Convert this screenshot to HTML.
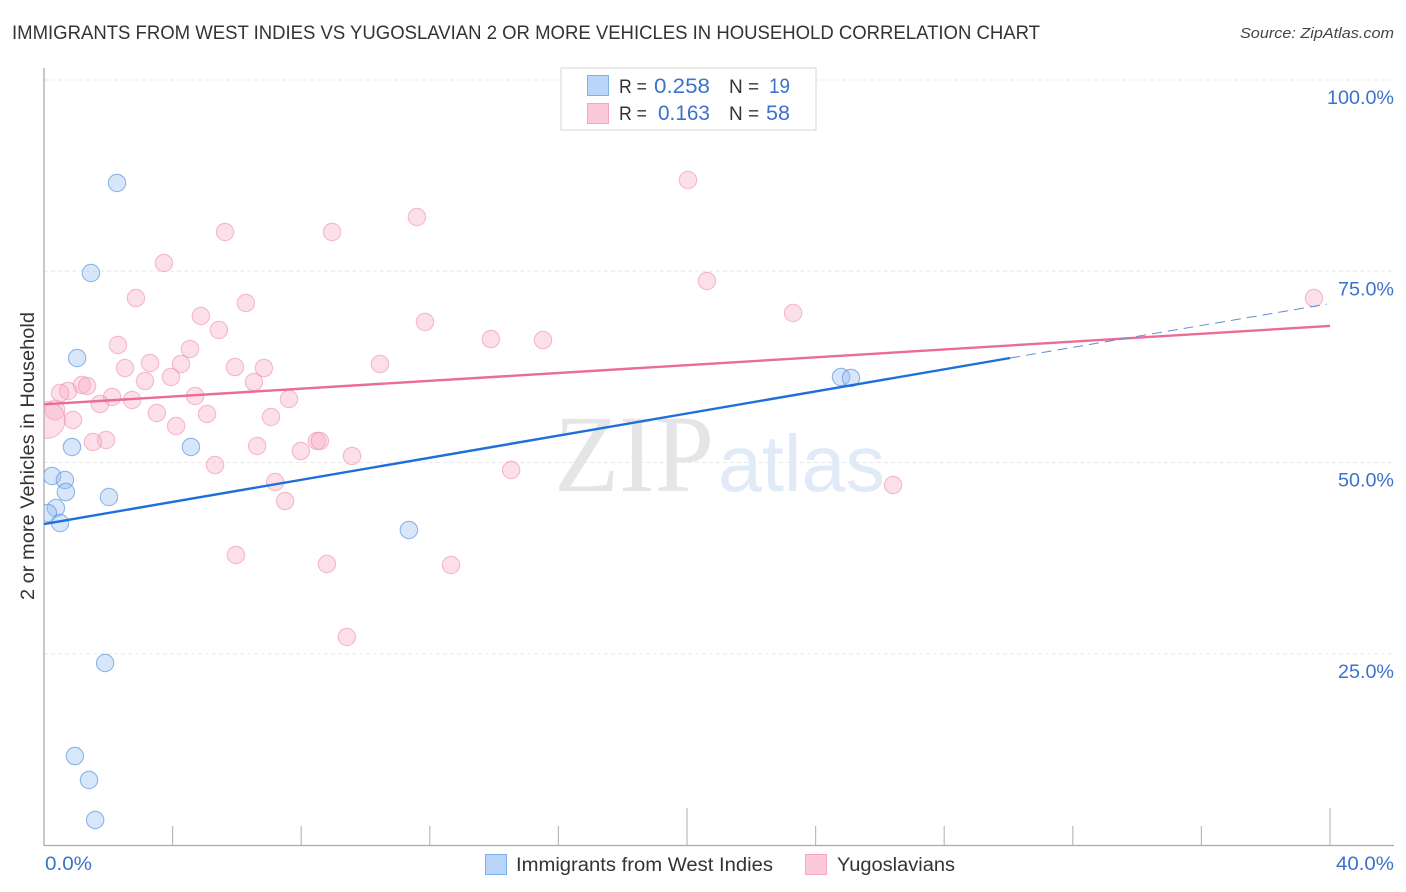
<!DOCTYPE html>
<html lang="en">
<head>
<meta charset="utf-8">
<title>Immigrants from West Indies vs Yugoslavian 2 or more Vehicles in Household Correlation Chart</title>
<style>
html,body{margin:0;padding:0;background:#fff}
svg{display:block}
text{font-family:"Liberation Sans",sans-serif}
</style>
</head>
<body>
<svg id="chart" xmlns="http://www.w3.org/2000/svg" width="1406" height="892" viewBox="0 0 1406 892">
<defs><clipPath id="plot-clip"><rect x="44" y="60" width="1350" height="785"/></clipPath></defs>
<rect width="1406" height="892" fill="#fff"/>
<text x="12" y="39" font-size="19" fill="#333" textLength="1028" lengthAdjust="spacingAndGlyphs">IMMIGRANTS FROM WEST INDIES VS YUGOSLAVIAN 2 OR MORE VEHICLES IN HOUSEHOLD CORRELATION CHART</text>
<text x="1394" y="38" font-size="15" font-style="italic" fill="#444" text-anchor="end" textLength="154" lengthAdjust="spacingAndGlyphs">Source: ZipAtlas.com</text>
<g id="grid"></g>
<g>
<text x="554" y="491" font-size="110" style="font-family:'Liberation Serif',serif" fill="#e4e5e6" textLength="160" lengthAdjust="spacingAndGlyphs">ZIP</text>
<text x="718" y="491" font-size="80" fill="#e1ebf8" textLength="167" lengthAdjust="spacingAndGlyphs">atlas</text>
</g>
<g id="axes"></g>
<g id="pink-points" clip-path="url(#plot-clip)"></g>
<g id="blue-points" clip-path="url(#plot-clip)"></g>
<g id="trends"></g>
<g id="tick-labels"></g>
<text x="34" y="456" font-size="19" fill="#333" text-anchor="middle" transform="rotate(-90 34 456)" textLength="288" lengthAdjust="spacingAndGlyphs">2 or more Vehicles in Household</text>
<g>
<rect x="561" y="68" width="255" height="62" fill="#fff" stroke="#dddddd" stroke-width="1.2"/>
<rect x="587.5" y="75.5" width="21" height="20" fill="#b9d5f8" stroke="#7fb0ea"/>
<rect x="587.5" y="103.5" width="21" height="20" fill="#fcc9d9" stroke="#f3a6bf"/>
<text x="619" y="93" font-size="19" fill="#333" textLength="28" lengthAdjust="spacingAndGlyphs">R =</text>
<text x="654" y="93" font-size="21" fill="#3b72cc" textLength="56" lengthAdjust="spacingAndGlyphs">0.258</text>
<text x="729" y="93" font-size="19" fill="#333">N =</text>
<text x="769" y="93" font-size="21" fill="#3b72cc" textLength="21" lengthAdjust="spacingAndGlyphs">19</text>
<text x="619" y="120" font-size="19" fill="#333" textLength="28" lengthAdjust="spacingAndGlyphs">R =</text>
<text x="658" y="120" font-size="21" fill="#3b72cc" textLength="52" lengthAdjust="spacingAndGlyphs">0.163</text>
<text x="729" y="120" font-size="19" fill="#333">N =</text>
<text x="766" y="120" font-size="21" fill="#3b72cc" textLength="24" lengthAdjust="spacingAndGlyphs">58</text>
</g>
<g>
<rect x="485.5" y="854.5" width="21" height="20" fill="#b9d5f8" stroke="#7fb0ea"/>
<text x="516" y="871" font-size="19" fill="#333" textLength="257" lengthAdjust="spacingAndGlyphs">Immigrants from West Indies</text>
<rect x="805.5" y="854.5" width="21" height="20" fill="#fcc9d9" stroke="#f3a6bf"/>
<text x="837" y="871" font-size="19" fill="#333" textLength="118" lengthAdjust="spacingAndGlyphs">Yugoslavians</text>
</g>
</svg>
<script>
const blueX = [2.27,1.46,1.03,0.87,0.25,0.65,0.68,2.02,0.37,0.12,0.50,4.57,11.35,24.79,25.10,1.90,0.96,1.40,1.59];
const blueY = [86.54,74.77,63.66,52.03,48.24,47.71,46.14,45.49,44.05,43.40,42.09,52.03,41.18,61.18,61.05,23.79,11.63,8.50,3.27];
const pinkX = [20.03,11.60,5.63,8.96,3.73,2.86,6.28,4.88,5.44,11.85,20.62,23.30,39.50,13.90,15.52,2.30,4.54,3.30,4.26,2.52,5.94,6.84,10.45,3.14,3.95,6.53,1.18,1.34,0.75,0.50,2.12,2.74,4.70,1.74,7.62,3.51,5.07,7.06,0.90,4.11,1.93,1.52,6.63,7.99,8.49,8.58,9.58,5.32,14.53,26.41,7.19,7.50,5.97,8.80,12.66,9.42,0.34,0.09];
const pinkY = [86.93,82.09,80.13,80.13,76.08,71.50,70.85,69.15,67.32,68.37,73.73,69.54,71.50,66.14,66.01,65.36,64.84,63.01,62.88,62.35,62.48,62.35,62.88,60.65,61.18,60.52,60.13,60.00,59.35,59.08,58.56,58.17,58.69,57.65,58.30,56.47,56.34,55.95,55.56,54.77,52.94,52.68,52.16,51.50,52.81,52.81,50.85,49.67,49.02,47.06,47.45,44.97,37.91,36.73,36.60,27.19,56.86,55.56];
const pinkLargeWeights = [0,0,0,0,0,0,0,0,0,0,0,0,0,0,0,0,0,0,0,0,0,0,0,0,0,0,0,0,0,0,0,0,0,0,0,0,0,0,0,0,0,0,0,0,0,0,0,0,0,0,0,0,0,0,0,0,1,8];
const blueTrendSolidX = [0,30.05];
const blueTrendSolidY = [41.96,63.66];
const blueTrendDashX = [30.05,39.9];
const blueTrendDashY = [63.66,70.7];
const pinkTrendX = [0,40];
const pinkTrendY = [57.6,67.85];
const yTicks = [25,50,75,100];
const yTickLabels = ['25.0%','50.0%','75.0%','100.0%'];
const xTicks = [0,4,8,12,16,20,24,28,32,36,40];
const xMajorTicks = [20,40];
const xEdgeLabels = ['0.0%','40.0%'];

const NS = 'http://www.w3.org/2000/svg';
const sx = v => 44 + v * 32.15;
const sy = v => 845 - v * 7.65;
function mk(tag, parent, attrs) {
  const el = document.createElementNS(NS, tag);
  for (const k in attrs) el.setAttribute(k, attrs[k]);
  parent.appendChild(el);
  return el;
}
const grid = document.getElementById('grid');
const axes = document.getElementById('axes');
const trends = document.getElementById('trends');
const labels = document.getElementById('tick-labels');
const pinkG = document.getElementById('pink-points');
const blueG = document.getElementById('blue-points');

yTicks.forEach((t, i) => {
  const y = sy(t);
  const line = mk('line', grid, {x1: 44, x2: 1394, y1: y, y2: y, stroke: '#e8e8e8', 'stroke-width': 1, 'stroke-dasharray': '4 3'});
  
  
  const lab = mk('text', labels, {x: 1394, y: y + 24, 'font-size': 19.5, fill: '#3b72cc', 'text-anchor': 'end', textLength: yTickLabels[i].length > 5 ? 67 : 56, lengthAdjust: 'spacingAndGlyphs'});
  lab.textContent = yTickLabels[i];
  
  
});

const yAxis = mk('line', axes, {x1: 44, x2: 44, y1: 68, y2: 845.5, stroke: '#aaaaaa', 'stroke-width': 1.3});


const xAxis = mk('line', axes, {x1: 44, x2: 1394, y1: 845.5, y2: 845.5, stroke: '#aaaaaa', 'stroke-width': 1.3});


xTicks.forEach(t => {
  if (t === 0) return;
  const x = sx(t);
  const top = xMajorTicks.includes(t) ? 808 : 826;
  const tick = mk('line', axes, {x1: x, x2: x, y1: top, y2: 845, stroke: '#bbbbbb', 'stroke-width': 1.2});
  
  
});
const x0 = mk('text', labels, {x: 45, y: 870, 'font-size': 19.5, fill: '#3b72cc', textLength: 47, lengthAdjust: 'spacingAndGlyphs'});
x0.textContent = xEdgeLabels[0];


const x1 = mk('text', labels, {x: 1394, y: 870, 'font-size': 19.5, fill: '#3b72cc', 'text-anchor': 'end', textLength: 58, lengthAdjust: 'spacingAndGlyphs'});
x1.textContent = xEdgeLabels[1];



pinkX.forEach((v, i) => {
  const c = mk('circle', pinkG, {cx: sx(v), cy: sy(pinkY[i]), r: 8.7 + pinkLargeWeights[i] * 1.2, fill: 'rgba(248,170,195,0.38)', stroke: 'rgba(235,130,165,0.5)', 'stroke-width': 1.1});
  
  
});
blueX.forEach((v, i) => {
  const c = mk('circle', blueG, {cx: sx(v), cy: sy(blueY[i]), r: 8.7, fill: 'rgba(150,190,240,0.38)', stroke: 'rgba(80,140,220,0.6)', 'stroke-width': 1.1});
  
  
});

const pinkLine = mk('line', trends, {x1: sx(pinkTrendX[0]), x2: sx(pinkTrendX[1]), y1: sy(pinkTrendY[0]), y2: sy(pinkTrendY[1]), stroke: '#ea6c97', 'stroke-width': 2.4});


const blueLine = mk('line', trends, {x1: sx(blueTrendSolidX[0]), x2: sx(blueTrendSolidX[1]), y1: sy(blueTrendSolidY[0]), y2: sy(blueTrendSolidY[1]), stroke: '#1f6fd8', 'stroke-width': 2.4});


const blueDash = mk('line', trends, {x1: sx(blueTrendDashX[0]), x2: sx(blueTrendDashX[1]), y1: sy(blueTrendDashY[0]), y2: sy(blueTrendDashY[1]), stroke: '#5f8fd0', 'stroke-width': 1, 'stroke-dasharray': '10 6'});


</script>
</body>
</html>
